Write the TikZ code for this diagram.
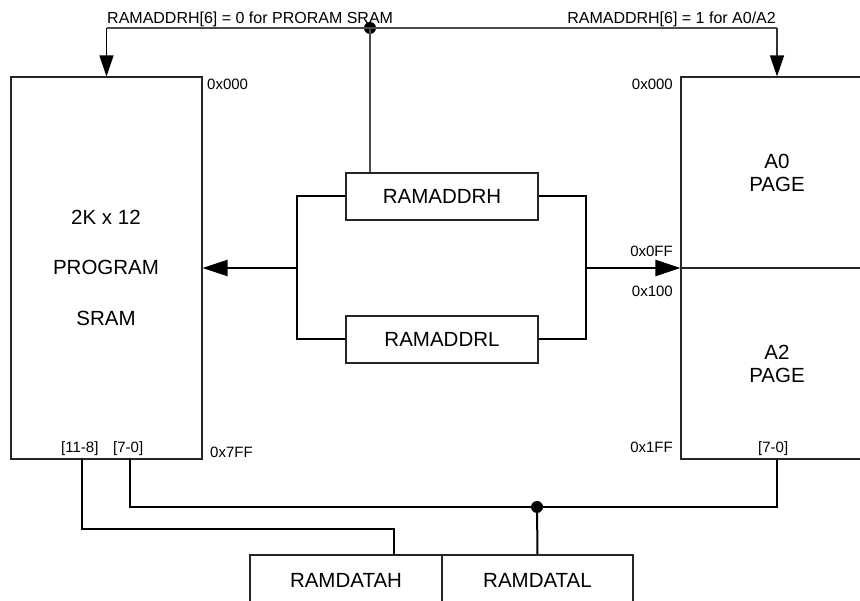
\documentclass[tikz,border=0pt]{standalone}
\usepackage{fontspec}
\setmainfont{Liberation Sans}
\usetikzlibrary{arrows.meta}
\begin{document}
\begin{tikzpicture}[x=1pt,y=-1pt,
  box/.style={draw=black!85, line width=1.1pt, rectangle, inner sep=0pt},
  big/.style={font=\fontsize{20.5}{24}\selectfont, inner sep=0pt},
  small/.style={font=\fontsize{15}{18}\selectfont, inner sep=0pt},
  toplbl/.style={font=\fontsize{16}{19}\selectfont, inner sep=0pt},
  bus/.style={line width=2pt, black},
  sel/.style={line width=1.4pt, black!70},
  harrow/.style={-{Triangle[length=25pt,width=16pt]}},
  varrow/.style={-{Triangle[length=21pt,width=14pt,color=black]}},
  junction/.style={circle, fill=black, minimum size=12pt, inner sep=0pt}]

\clip (0,0) rectangle (860,601);
\useasboundingbox (0,0) rectangle (860,601);
\fill[white] (0,0) rectangle (860,601);

% memory blocks
\node[box, minimum width=191pt, minimum height=382pt] (prog) at (106.5,268) {};
\node[box, minimum width=192pt, minimum height=382pt] (pages) at (777,268) {};
\draw[black!85, line width=1.4pt] (pages.west) -- (pages.east);

% registers
\node[box, big, minimum width=192pt, minimum height=47pt] (addrh) at (442,196.5) {RAMADDRH};
\node[box, big, minimum width=192pt, minimum height=47pt] (addrl) at (442,339.5) {RAMADDRL};
\node[box, big, minimum width=192pt, minimum height=50pt] (datah) at (346,580) {RAMDATAH};
\node[box, big, minimum width=191pt, minimum height=50pt] (datal) at (537.5,580) {RAMDATAL};

% texts in blocks
\node[big] (t1) at (106,217) {2K x 12};
\node[big] (t2) at (106,267) {PROGRAM};
\node[big] (t3) at (106,318) {SRAM};
\node[big] (a0) at (777,161) {A0};
\node[big] (p0) at (777,184) {PAGE};
\node[big] (a2) at (777,352) {A2};
\node[big] (p2) at (777,375) {PAGE};

% address labels
\node[small, anchor=base west] (l000) at (207,90) {0x000};
\node[small, anchor=base east] (r000) at (673,90) {0x000};
\node[small, anchor=base east] (r0ff) at (673,257) {0x0FF};
\node[small, anchor=base east] (r100) at (673,297) {0x100};
\node[small, anchor=base west] (l7ff) at (210,458) {0x7FF};
\node[small, anchor=base east] (r1ff) at (673,453) {0x1FF};
\node[small, anchor=base west] (b118) at (61,453) {[11-8]};
\node[small, anchor=base west] (b70) at (113,453) {[7-0]};
\node[small, anchor=base west] (rb70) at (758,453) {[7-0]};

% select line
\node[junction] (j1) at (370,28) {};
\node[toplbl, anchor=base west] (sel0) at (107,23.3) {RAMADDRH[6] = 0 for PRORAM SRAM};
\node[toplbl, anchor=base east] (sel1) at (776,23.3) {RAMADDRH[6] = 1 for A0/A2};
\draw[sel] (j1.center) -- (prog.north |- j1);
\draw[sel] (j1.center) -- (pages.north |- j1);
\draw[sel, black, varrow] (prog.north |- j1) -- (prog.north);
\draw[sel, black!80, varrow] (pages.north |- j1) -- (pages.north);
\draw[sel] (j1.center) -- (addrh.north -| j1);

% address brackets
\coordinate (lb) at (297,268);
\coordinate (rb) at (586,268);
\draw[bus] (addrh.west) -| (lb) |- (addrl.west);
\draw[bus] (addrh.east) -| (rb) |- (addrl.east);
\draw[bus, harrow] (lb) -- (prog.east);
\draw[bus, harrow] (rb) -- (pages.west);

% data buses
\coordinate (s118) at (82,459);
\coordinate (s70) at (130,459);
\node[junction] (j2) at (537,507) {};
\draw[bus] (s118) -- (82,529) -| (394,555);
\draw[bus] (s70) -- (130,507) -| (pages.south);
\draw[bus] (j2.center) -- (datal.north);
\end{tikzpicture}
\end{document}
